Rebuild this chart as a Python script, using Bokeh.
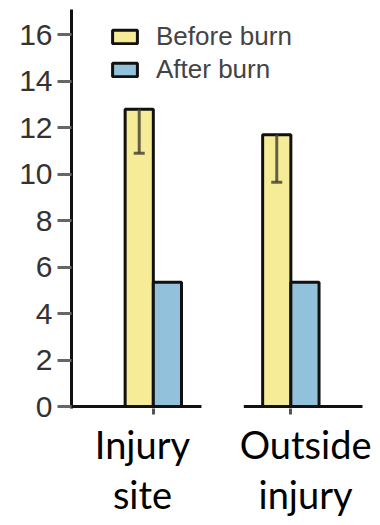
from bokeh.plotting import figure
from bokeh.models import Range1d, FixedTicker, Legend, LegendItem, LinearAxis
from bokeh.embed import file_html
from bokeh.resources import INLINE

# data
categories = ["Injury site", "Outside injury"]
before_burn = [12.8, 11.7]
after_burn = [5.35, 5.35]
before_err_low = [10.9, 9.65]
y_ticks = [0, 2, 4, 6, 8, 10, 12, 14, 16]

# styling
YELLOW = "#F6EC98"
BLUE = "#92C2DB"
INK = "#111111"
ERR = "#4b4734"
bar_w = 0.205
base_left = [0.605, 0.342]      # baseline extent left of each group centre
base_right = [0.35, 0.525]      # baseline extent right of each group centre
label_dx = [-0.079, 0.107]      # shift of the group labels

idx = list(range(len(categories)))
x_before = [i - bar_w / 2 for i in idx]
x_after = [i + bar_w / 2 for i in idx]

p = figure(width=380, height=525, output_backend="svg", toolbar_location=None,
           x_range=Range1d(-0.595, 1.521), y_range=Range1d(-0.086, 17.09),
           min_border_left=71, min_border_right=18, min_border_top=9,
           min_border_bottom=117)
p.outline_line_color = None
p.xgrid.visible = False
p.ygrid.visible = False

r_before = p.vbar(x=x_before, top=before_burn, bottom=0, width=bar_w,
                  fill_color=YELLOW, line_color=INK, line_width=3)
r_after = p.vbar(x=x_after, top=after_burn, bottom=0, width=bar_w,
                 fill_color=BLUE, line_color=INK, line_width=3)

# broken baseline, one piece per group
p.segment(x0=[i - l for i, l in zip(idx, base_left)], y0=[0] * len(idx),
          x1=[i + r for i, r in zip(idx, base_right)], y1=[0] * len(idx),
          line_color=INK, line_width=3)

# downward error bars on the "before" bars
p.segment(x0=x_before, y0=before_burn, x1=x_before, y1=before_err_low,
          line_color=ERR, line_width=3, line_alpha=0.85)
p.dash(x=x_before, y=before_err_low, size=11, line_color=ERR, line_width=3,
       line_alpha=0.85)

# y axis
yax = p.yaxis[0]
yax.ticker = FixedTicker(ticks=y_ticks)
yax.axis_line_width = 3
yax.axis_line_color = INK
yax.major_tick_out = 14
yax.major_tick_in = 0
yax.major_tick_line_width = 3
yax.major_tick_line_color = "#666666"
yax.minor_tick_line_color = None
yax.major_label_text_font = "Liberation Sans"
yax.major_label_text_font_size = "30px"
yax.major_label_text_color = "#333333"
yax.major_label_standoff = 5

# x axis: ticks only, the line is drawn as the broken baseline
xax = p.xaxis[0]
xax.ticker = FixedTicker(ticks=idx)
xax.axis_line_color = None
xax.major_tick_out = 6
xax.major_tick_in = 0
xax.major_tick_line_width = 3
xax.major_tick_line_color = "#555555"
xax.minor_tick_line_color = None
xax.major_label_text_color = None
xax.major_label_text_font_size = "1px"
xax.major_label_standoff = 0

# group labels on a second, line-less axis
label_pos = [i + d for i, d in zip(idx, label_dx)]
lab_axis = LinearAxis(ticker=FixedTicker(ticks=label_pos),
                      major_label_overrides={pos: cat.replace(" ", "\n")
                                             for pos, cat in zip(label_pos, categories)},
                      axis_line_color=None, major_tick_line_color=None,
                      minor_tick_line_color=None, major_tick_out=0,
                      major_tick_in=0, major_label_standoff=6,
                      major_label_text_font="Lato",
                      major_label_text_font_size="38px",
                      major_label_text_color="black",
                      major_label_text_line_height=1.1)
p.add_layout(lab_axis, "below")

legend = Legend(items=[LegendItem(label="Before burn", renderers=[r_before]),
                       LegendItem(label="After burn", renderers=[r_after])],
                location=(38, 323), padding=0, margin=0, spacing=2,
                glyph_width=31, glyph_height=17, label_height=30,
                label_standoff=16, label_text_font="Liberation Sans",
                label_text_font_size="26px", label_text_color="#444444",
                border_line_color=None, background_fill_alpha=0)
p.add_layout(legend)

open("out.html", "w").write(file_html(p, INLINE))
